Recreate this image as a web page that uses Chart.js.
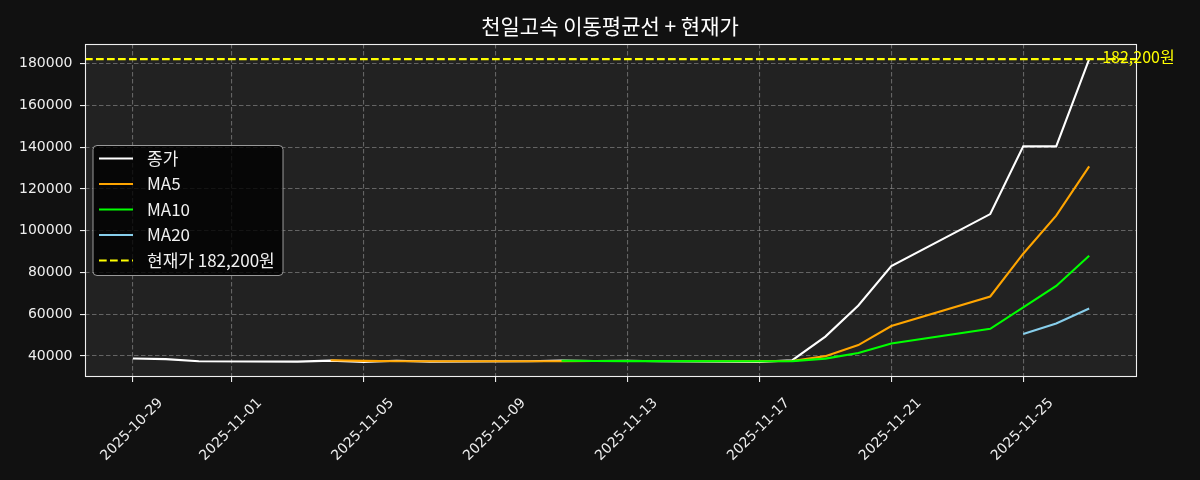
<!DOCTYPE html>
<html>
<head>
<meta charset="utf-8">
<script src="https://cdn.jsdelivr.net/npm/chart.js@4.4.1/dist/chart.umd.min.js"></script>
<style>
  html, body { margin: 0; padding: 0; background: #111111; }
  #wrap { width: 1200px; height: 480px; position: relative; }
</style>
</head>
<body>
<div id="wrap"><canvas id="c"></canvas></div>
<script>
// ---------------- data ----------------
const titleText = '천일고속 이동평균선 + 현재가';
const dates = ['2025-10-29','2025-10-30','2025-10-31','2025-11-03','2025-11-04','2025-11-05','2025-11-06','2025-11-07','2025-11-10','2025-11-11','2025-11-12','2025-11-13','2025-11-14','2025-11-17','2025-11-18','2025-11-19','2025-11-20','2025-11-21','2025-11-24','2025-11-25','2025-11-26','2025-11-27'];
const closePrices = [38800,38500,37500,37300,37800,37200,37700,37300,37500,37800,37600,37700,37500,37200,38000,49300,64200,83100,108000,140400,140400,182200];
const ma5  = [null,null,null,null,37980,37660,37500,37460,37500,37500,37580,37580,37620,37560,37600,39940,45240,54360,68520,89000,107220,130820];
const ma10 = [null,null,null,null,null,null,null,null,null,37740,37620,37540,37540,37530,37550,38760,41410,45990,53040,63300,73580,88030];
const ma20 = [null,null,null,null,null,null,null,null,null,null,null,null,null,null,null,null,null,null,null,50520,55600,62790];
const currentPrice = 182200;
const seriesLabels = ['종가','MA5','MA10','MA20','현재가 182,200원'];
const xTickDates = ['2025-10-29','2025-11-01','2025-11-05','2025-11-09','2025-11-13','2025-11-17','2025-11-21','2025-11-25'];
const yTicks = [40000,60000,80000,100000,120000,140000,160000,180000];

// ---------------- helpers ----------------
const DAY = 86400000;
const t0 = Date.parse(dates[0]);
const dayIdx = d => Math.round((Date.parse(d) - t0) / DAY);
const dayToDate = n => new Date(t0 + n * DAY).toISOString().slice(0, 10);
const toPts = arr => dates.map((d, i) => ({ x: dayIdx(d), y: arr[i] }));

const firstDay = dayIdx(dates[0]);
const lastDay = dayIdx(dates[dates.length - 1]);
const xMargin = (lastDay - firstDay) * 0.05;
const xMin = firstDay - xMargin, xMax = lastDay + xMargin;
const allVals = [].concat(closePrices, ma5, ma10, ma20, [currentPrice]).filter(v => v != null);
const vMin = Math.min(...allVals), vMax = Math.max(...allVals);
const yMargin = (vMax - vMin) * 0.05;
const yMin = vMin - yMargin, yMax = vMax + yMargin;

const TICK_FONT = "'DejaVu Sans', 'Noto Sans CJK KR', sans-serif";
const KR_FONT = "'Noto Sans CJK KR', 'DejaVu Sans', sans-serif";
const LW = 2.08;

// ---------------- plugins ----------------
const bgPlugin = {
  id: 'plotBg',
  beforeDraw(chart) {
    const { ctx, chartArea: a } = chart;
    ctx.save();
    ctx.fillStyle = '#222222';
    ctx.fillRect(a.left, a.top, a.right - a.left, a.bottom - a.top);
    ctx.restore();
  }
};

const framePlugin = {
  id: 'frame',
  afterDatasetsDraw(chart) {
    const { ctx, chartArea: a } = chart;
    ctx.save();
    ctx.strokeStyle = '#f0f0f0';
    ctx.lineWidth = 1.1;
    const l = Math.round(a.left) + 0.5, t = Math.round(a.top) + 0.5;
    const r = Math.round(a.right) - 0.5, b = Math.round(a.bottom) - 0.5;
    ctx.strokeRect(l, t, r - l, b - t);
    ctx.restore();
  }
};

const priceLabelPlugin = {
  id: 'priceLabel',
  afterDraw(chart) {
    const { ctx } = chart;
    const x = chart.scales.x.getPixelForValue(lastDay) + 13;
    const y = chart.scales.y.getPixelForValue(currentPrice) - 2;
    ctx.save();
    ctx.fillStyle = '#ffff00';
    ctx.font = "16px " + KR_FONT;
    ctx.textAlign = 'left';
    ctx.textBaseline = 'middle';
    ctx.fillText(currentPrice.toLocaleString('en-US') + '원', x, y);
    ctx.restore();
  }
};

const legendPlugin = {
  id: 'boxLegend',
  afterDraw(chart) {
    const { ctx, chartArea: a } = chart;
    const w = 190, h = 130;
    const bx = a.left + 8;
    const by = (a.top + a.bottom) / 2 - h / 2;
    ctx.save();
    const r = 4;
    ctx.beginPath();
    ctx.moveTo(bx + r, by);
    ctx.lineTo(bx + w - r, by);
    ctx.quadraticCurveTo(bx + w, by, bx + w, by + r);
    ctx.lineTo(bx + w, by + h - r);
    ctx.quadraticCurveTo(bx + w, by + h, bx + w - r, by + h);
    ctx.lineTo(bx + r, by + h);
    ctx.quadraticCurveTo(bx, by + h, bx, by + h - r);
    ctx.lineTo(bx, by + r);
    ctx.quadraticCurveTo(bx, by, bx + r, by);
    ctx.closePath();
    ctx.fillStyle = 'rgba(0,0,0,0.8)';
    ctx.fill();
    ctx.strokeStyle = '#999999';
    ctx.lineWidth = 1;
    ctx.stroke();
    ctx.font = "17px " + KR_FONT;
    ctx.textAlign = 'left';
    ctx.textBaseline = 'middle';
    chart.data.datasets.forEach((ds, i) => {
      const y = by + 13 + i * 25.5;
      ctx.beginPath();
      ctx.setLineDash(ds.borderDash || []);
      ctx.strokeStyle = ds.borderColor;
      ctx.lineWidth = ds.borderWidth;
      ctx.moveTo(bx + 6, y);
      ctx.lineTo(bx + 40, y);
      ctx.stroke();
      ctx.setLineDash([]);
      ctx.fillStyle = '#f0f0f0';
      ctx.fillText(ds.label, bx + 54, y);
    });
    ctx.restore();
  }
};

// ---------------- chart ----------------
const lineDs = (label, arr, color, order) => ({
  label, data: toPts(arr), borderColor: color, backgroundColor: color,
  borderWidth: LW, pointRadius: 0, tension: 0, fill: false, order, yAxisID: 'y'
});

const datasets = [
  lineDs(seriesLabels[0], closePrices, '#ffffff', 4),
  lineDs(seriesLabels[1], ma5, '#ffa500', 3),
  lineDs(seriesLabels[2], ma10, '#00ff00', 2),
  lineDs(seriesLabels[3], ma20, '#87ceeb', 1),
  {
    label: seriesLabels[4],
    data: [{ x: xMin, y: currentPrice }, { x: xMax, y: currentPrice }],
    borderColor: '#ffff00', backgroundColor: '#ffff00', yAxisID: 'y',
    borderWidth: LW, borderDash: [7.7, 3.3], pointRadius: 0, tension: 0, fill: false, order: 0
  }
];

const gridOpts = {
  color: 'rgba(255,255,255,0.3)',
  lineWidth: 1.1,
  drawTicks: true,
  tickLength: 5,
  tickColor: '#eeeeee',
  tickWidth: 1.1,
  tickBorderDash: []
};

new Chart(document.getElementById('c'), {
  type: 'line',
  data: { datasets },
  options: {
    responsive: true,
    maintainAspectRatio: false,
    animation: false,
    events: [],
    layout: { padding: { left: 20, right: 0, top: 0, bottom: 0 } },
    plugins: {
      legend: { display: false },
      tooltip: { enabled: false },
      title: {
        display: true,
        text: titleText,
        color: '#ffffff',
        font: { family: KR_FONT, size: 21, weight: 'normal', lineHeight: 1.2 },
        padding: { top: 13.4, bottom: 5.4 }
      }
    },
    scales: {
      x: {
        type: 'linear',
        min: xMin, max: xMax,
        afterBuildTicks: s => { s.ticks = xTickDates.map(d => ({ value: dayIdx(d) })); },
        afterFit: s => { s.height = 103; },
        ticks: {
          autoSkip: false,
          minRotation: 45, maxRotation: 45,
          labelOffset: 28,
          padding: 13,
          color: '#eeeeee',
          font: { family: TICK_FONT, size: 14 },
          callback: v => dayToDate(v)
        },
        grid: gridOpts,
        border: { display: false, dash: [4.5, 2.5] }
      },
      y: {
        type: 'linear',
        position: 'left',
        min: yMin, max: yMax,
        afterBuildTicks: s => { s.ticks = yTicks.map(v => ({ value: v })); },
        afterFit: s => { s.width = 65; },
        ticks: {
          color: '#eeeeee',
          padding: 7.5,
          font: { family: TICK_FONT, size: 14 },
          callback: v => String(v)
        },
        grid: gridOpts,
        border: { display: false, dash: [4.5, 2.5] }
      },
      yRight: {
        type: 'linear',
        position: 'right',
        min: yMin, max: yMax,
        afterFit: s => { s.width = 63; },
        ticks: { display: false },
        grid: { display: false, drawTicks: false },
        border: { display: false }
      }
    }
  },
  plugins: [bgPlugin, framePlugin, priceLabelPlugin, legendPlugin]
});
</script>
</body>
</html>
